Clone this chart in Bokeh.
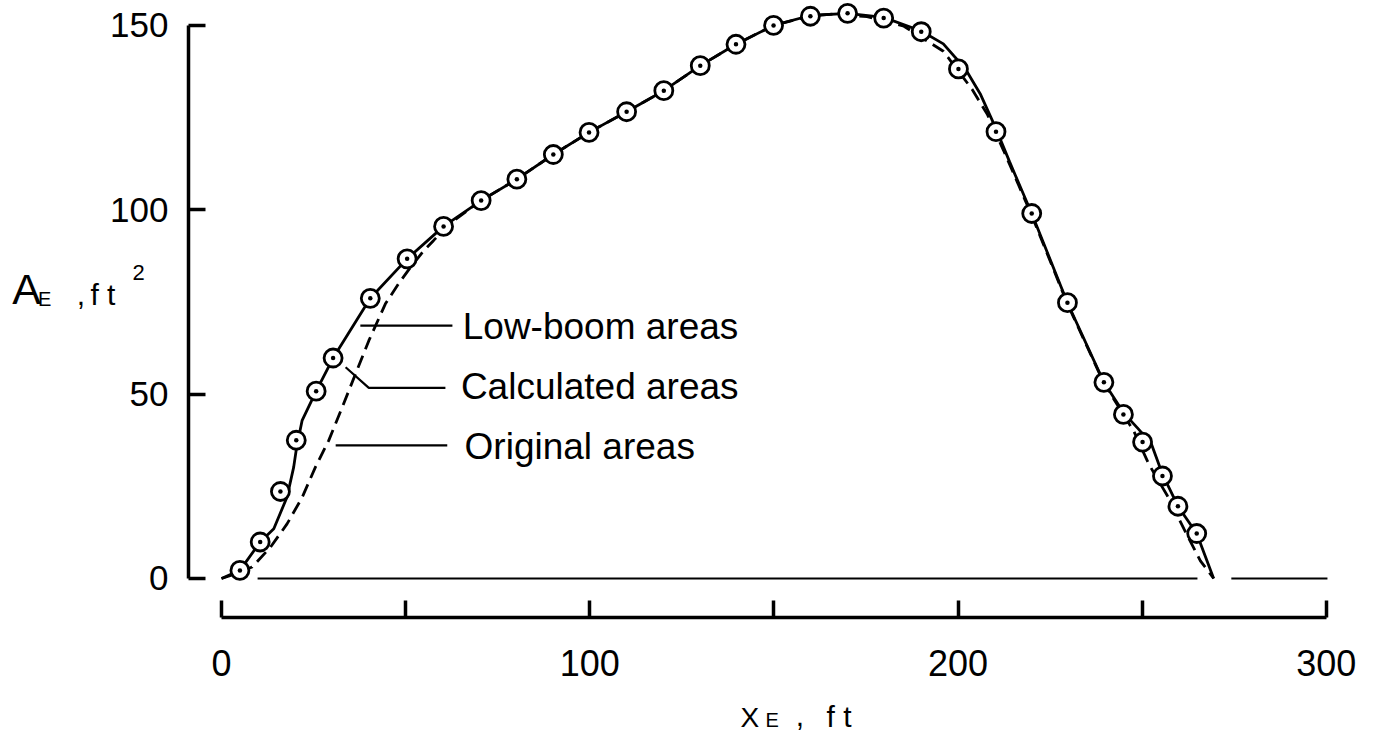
from bokeh.plotting import figure
from bokeh.models import Range1d, FixedTicker, Label, LinearAxis
from bokeh.embed import file_html
from bokeh.resources import INLINE

# ---- data ----
# calculated areas (circles)
calc_x = [5, 10.5, 16, 20.3, 25.7, 30.3, 40.4, 50.4, 60.3, 70.5, 80.2, 90.1, 99.8, 110, 120.1,
          130, 139.7, 149.9, 159.9, 170, 179.8, 190, 200.1, 210.3, 220, 229.7, 239.6, 244.9,
          250.1, 255.5, 259.7, 264.8]
calc_y = [2.2, 9.9, 23.6, 37.5, 50.8, 59.8, 76, 86.7, 95.5, 102.5, 108.3, 115, 121, 126.6, 132.3,
          139.1, 144.9, 150, 152.5, 153.3, 152, 148.3, 138.2, 121.2, 99, 74.8, 53.2, 44.5,
          37, 27.8, 19.6, 12.2]

# low-boom areas (solid curve)
lowboom_x = [0, 5, 10.5, 14.2, 17.8, 19.6, 20.4, 21.9, 25.7, 30.3, 40.4, 50.4, 60.3, 70.5, 80.2,
             90.1, 99.8, 110, 120.1, 130, 139.7, 149.9, 159.9, 170, 179.8, 190, 196, 202, 206,
             210.3, 214, 220, 229.7, 239.6, 244.9, 249, 252.5, 255.5, 259.7, 264.8, 269.4]
lowboom_y = [0, 2.2, 9.9, 13.5, 22.1, 30.2, 35.6, 42.9, 50.8, 59.8, 76, 86.7, 95.5, 102.5, 108.3,
             115, 121, 126.6, 132.3, 139.1, 144.9, 150, 152.7, 153.3, 152.2, 148.5, 145, 138.2, 131.5,
             122, 113, 99, 74.8, 53.2, 45, 40.5, 36.5, 28.3, 19.6, 12.2, 0]

# original areas (dashed curve)
original_x = [0, 4, 8.3, 13.3, 17.8, 21.9, 25.5, 29.1, 32.8, 36.4, 40, 44.5, 48.1, 51.3, 55, 57.6,
              62, 70.5, 80.2, 90.1, 99.8, 110, 120.1, 130, 139.7, 149.9, 159.9, 166, 175.3, 185.3,
              196, 203.8, 207.9, 212.4, 220, 229.7, 239.6, 247.7, 251.8, 256.8, 261.3, 265.8, 269.4]
original_y = [0, 1.3, 3.1, 8.5, 14.8, 22, 30.2, 37.4, 46.5, 55.5, 64.5, 74.5, 80, 84.4, 89, 91.7,
              96.3, 102.5, 108.3, 115, 121, 126.6, 132.3, 139.1, 144.9, 150, 152.6, 153.1, 152.4, 149.8,
              143, 132.7, 126, 116, 98.5, 74.5, 53, 40, 31, 22.5, 13.5, 4.8, 0]

# zero reference line (two pieces)
zero_line_x = [[9.8, 265], [274.2, 300.3]]
zero_line_y = [[0, 0], [0, 0]]

# legend leader lines
leader_lowboom_x = [37.7, 62.7]
leader_lowboom_y = [68.6, 68.6]
leader_calc_x = [33.7, 40.0, 60.8]
leader_calc_y = [57.3, 51.7, 51.7]
leader_orig_x = [31.0, 61.3]
leader_orig_y = [36.1, 36.1]

legend_texts = ["Low-boom areas", "Calculated areas", "Original areas"]

x_ticks = [0, 100, 200, 300]
x_minor_ticks = [50, 150, 250]
y_ticks = [0, 50, 100, 150]

FONT = "Liberation Sans"

p = figure(width=1377, height=747, output_backend="svg", toolbar_location=None,
           x_range=Range1d(-60.01, 313.89), y_range=Range1d(-45.84, 156.77),
           x_axis_location=None, y_axis_location=None,
           min_border_left=0, min_border_right=0, min_border_top=0, min_border_bottom=0)
p.background_fill_color = "white"
p.border_fill_color = "white"
p.outline_line_color = None
p.grid.visible = False

xaxis = LinearAxis(fixed_location=-10.58, bounds=(0, 300),
                   ticker=FixedTicker(ticks=x_ticks, minor_ticks=x_minor_ticks))
yaxis = LinearAxis(fixed_location=-8.96, bounds=(0, 150),
                   ticker=FixedTicker(ticks=y_ticks, minor_ticks=[]))

for ax in (xaxis, yaxis):
    ax.axis_line_width = 3.5
    ax.axis_line_color = "black"
    ax.major_tick_line_width = 3.5
    ax.major_tick_line_color = "black"
    ax.minor_tick_line_width = 3.5
    ax.minor_tick_line_color = "black"
    ax.major_tick_in = 17
    ax.major_tick_out = 0
    ax.minor_tick_in = 17
    ax.minor_tick_out = 0
    ax.major_label_text_font = FONT
    ax.major_label_text_color = "black"

xaxis.major_label_text_font_size = "36px"
xaxis.major_label_standoff = 32
yaxis.major_label_text_font_size = "35px"
yaxis.major_label_standoff = 20

p.add_layout(xaxis, "below")
p.add_layout(yaxis, "left")

# zero line
p.multi_line(zero_line_x, zero_line_y, line_color="black", line_width=2.2)

# curves
p.line(original_x, original_y, line_color="black", line_width=2.8, line_dash="13 7")
p.line(lowboom_x, lowboom_y, line_color="black", line_width=2.8)
p.scatter(calc_x, calc_y, marker="circle_dot", size=18, fill_color="white",
          line_color="black", line_width=2.8)

# leader lines
p.line(leader_lowboom_x, leader_lowboom_y, line_color="black", line_width=2.2)
p.line(leader_calc_x, leader_calc_y, line_color="black", line_width=2.2)
p.line(leader_orig_x, leader_orig_y, line_color="black", line_width=2.2)

legend_pos = [(65.5, 68.3), (65.0, 52.1), (66.0, 35.8)]
for t, (lx, ly) in zip(legend_texts, legend_pos):
    p.add_layout(Label(x=lx, y=ly, text=t, text_font=FONT, text_font_size="37px",
                       text_baseline="middle", text_align="left", text_color="black"))

# axis titles built from pieces (subscript / superscript), anchored at their vertical middle
def piece(x, y, text, size):
    p.add_layout(Label(x=x, y=y, text=text, text_font=FONT, text_font_size=size,
                       text_baseline="middle", text_align="left", text_color="black"))

piece(-56.8, 78.5, "A", "43px")
piece(-49.8, 75.8, "E", "20px")
piece(-39.3, 77.0, ",", "30px")
piece(-35.6, 77.0, "f t", "30px")
piece(-24.2, 83.1, "2", "22px")

piece(140.9, -37.7, "X", "28px")
piece(147.7, -38.5, "E", "20px")
piece(155.9, -37.4, ",", "30px")
piece(164.3, -37.5, "f t", "30px")

open("out.html", "w").write(file_html(p, INLINE))
